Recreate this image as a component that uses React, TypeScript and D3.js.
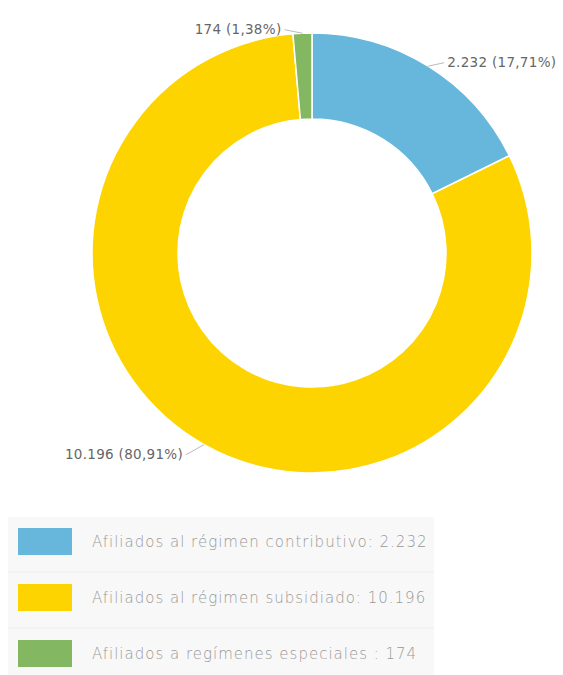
import React from "react";
import * as d3 from "d3";

const categories = [
  "Afiliados al régimen contributivo",
  "Afiliados al régimen subsidiado",
  "Afiliados a regímenes especiales ",
];
const values = [2232, 10196, 174];
const valueLabels = ["2.232", "10.196", "174"];
const percentLabels = ["17,71%", "80,91%", "1,38%"];
const colors = ["#67b7dc", "#fdd400", "#84b761"];

const W = 563;
const H = 675;
const cx = 312;
const cy = 253;
const rOuter = 220;
const rInner = 134;

export default function App() {
  const pie = d3.pie<number>().sort(null).value((d) => d)(values);
  const arc = d3.arc<d3.PieArcDatum<number>>().innerRadius(rInner).outerRadius(rOuter);

  const legendTop = 517;
  const rowH = 56;

  return (
    <svg width={W} height={H} style={{ position: "absolute", left: 0, top: 0 }}>
      <rect width={W} height={H} fill="#fff" />
      <g transform={`translate(${cx},${cy})`}>
        {pie.map((p, i) => (
          <path key={i} d={arc(p) || ""} fill={colors[i]} stroke="#fff" strokeWidth={1.5} />
        ))}
      </g>
      {pie.map((p, i) => {
        const a = (p.startAngle + p.endAngle) / 2;
        const px = cx + rOuter * Math.sin(a);
        const py = cy - rOuter * Math.cos(a);
        const right = Math.sin(a) > 0;
        const ex = px + (right ? 16 : -18);
        const ey = py + (Math.cos(a) > 0 ? -3.5 : 10);
        return (
          <g key={i}>
            <line x1={px} y1={py} x2={ex} y2={ey} stroke="#bbb" strokeWidth={1} />
            <text
              x={ex + (right ? 3 : -3)}
              y={ey}
              dominantBaseline="middle"
              textAnchor={right ? "start" : "end"}
              fontFamily="DejaVu Sans"
              fontSize={13.5}
              letterSpacing={0.3}
              fill="#666"
            >
              {`${valueLabels[i]} (${percentLabels[i]})`}
            </text>
          </g>
        );
      })}
      <g>
        {categories.map((c, i) => {
          const y = legendTop + i * rowH;
          return (
            <g key={i}>
              <rect x={8} y={y} width={426} height={rowH - 2} fill="#f8f8f8" />
              <line x1={8} x2={434} y1={y + rowH - 1} y2={y + rowH - 1} stroke="#e6e6e6" strokeWidth={1} />
              <rect x={18} y={y + 11} width={54} height={27} fill={colors[i]} />
              <text
                x={92}
                y={y + 25}
                dominantBaseline="middle"
                fontFamily="DejaVu Sans"
                fontWeight={200}
                fontSize={15}
                letterSpacing={1}
                fill="#999"
              >
                {`${c}:  ${valueLabels[i]}`}
              </text>
            </g>
          );
        })}
      </g>
    </svg>
  );
}
